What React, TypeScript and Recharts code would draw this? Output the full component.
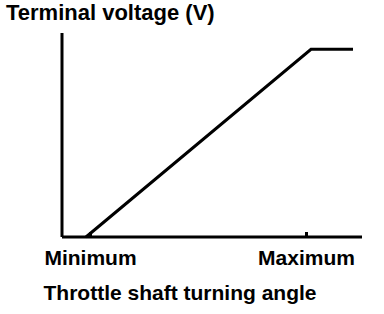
import React from 'react';
import { LineChart, Line, XAxis, YAxis } from 'recharts';

// throttle angle (0-100 scale) vs terminal voltage (0-100 scale)
const angle = [8, 83, 97];
const voltage = [0, 92, 92];
const tickValues = [9.5, 81.5];
const tickLabels = ['Minimum', 'Maximum'];

const chartData = angle.map((a, i) => ({ angle: a, voltage: voltage[i] }));

const FONT = '"Liberation Sans", Arial, Helvetica, sans-serif';

function AngleTick(props: any) {
    const { x, y, payload } = props;
    const idx = tickValues.indexOf(payload.value);
    return (
        <g>
            <line x1={x} y1={y - 5} x2={x} y2={y} stroke="#000" strokeWidth={3} />
            <text x={x} y={y + 28} textAnchor="middle" fontFamily={FONT} fontWeight="bold" fontSize={21} fill="#000">
                {tickLabels[idx]}
            </text>
        </g>
    );
}

export default function App() {
    return (
        <div style={{ position: 'absolute', left: 0, top: 0, width: 384, height: 314, background: '#fff' }}>
            <div style={{ position: 'absolute', left: 6, top: 1, fontFamily: FONT, fontWeight: 'bold', fontSize: 22, lineHeight: '24px', whiteSpace: 'nowrap' }}>
                Terminal voltage (V)
            </div>
            <LineChart width={384} height={314} data={chartData} margin={{ top: 33, right: 22, left: 60, bottom: 47 }}>
                <XAxis
                    type="number"
                    dataKey="angle"
                    domain={[0, 100]}
                    ticks={tickValues}
                    interval={0}
                    tick={<AngleTick />}
                    tickLine={false}
                    tickSize={0}
                    tickMargin={0}
                    height={30}
                    axisLine={{ stroke: '#000', strokeWidth: 3 }}
                />
                <YAxis
                    type="number"
                    domain={[0, 100]}
                    width={2}
                    tick={false}
                    tickLine={false}
                    axisLine={{ stroke: '#000', strokeWidth: 3 }}
                />
                <Line type="linear" dataKey="voltage" stroke="#000" strokeWidth={3} dot={false} isAnimationActive={false} />
            </LineChart>
            <div style={{ position: 'absolute', left: 0, width: 360, top: 281, textAlign: 'center', fontFamily: FONT, fontWeight: 'bold', fontSize: 21, lineHeight: '24px', whiteSpace: 'nowrap' }}>
                Throttle shaft turning angle
            </div>
        </div>
    );
}
